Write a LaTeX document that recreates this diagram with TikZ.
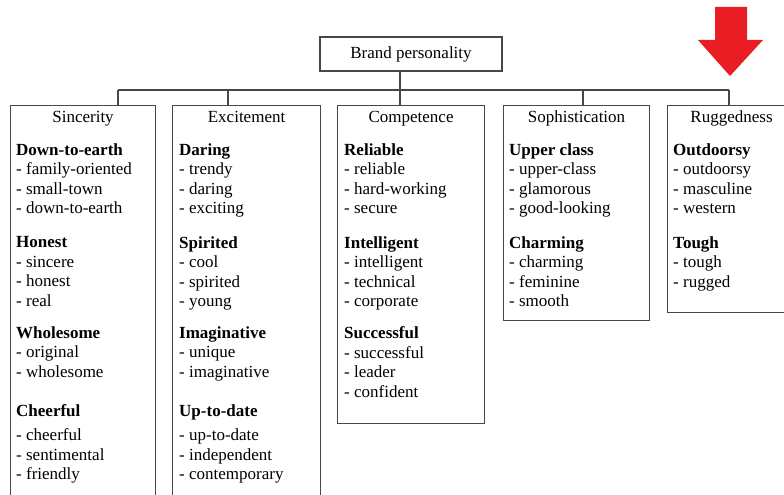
\documentclass[tikz,border=0pt]{standalone}
\usepackage{fontspec}
\setmainfont{Liberation Serif}
\usetikzlibrary{positioning}
\definecolor{arrowred}{RGB}{232,30,36}

\begin{document}
\begin{tikzpicture}[x=1pt,y=-1pt]
	%\draw[help lines] (0,0) grid (784,495);
	\clip (0,0) rectangle (784,495);

	\tikzstyle{bnode} = [rectangle,draw=black!72,line width=1.1pt,anchor=north west,inner sep=0]
	\tikzstyle{hnode} = [anchor=base,inner sep=0,font=\fontsize{17}{19.5}\selectfont]
	\tikzstyle{gnode} = [anchor=north west,align=left,inner sep=0,font=\fontsize{17}{19.5}\selectfont]
	\tikzstyle{bedge} = [draw=black!72,line width=1.1pt]

	% top box
	\node[rectangle,draw=black!72,line width=1.1pt,minimum width=182pt,minimum height=34pt,
		font=\fontsize{17}{19.5}\selectfont] (brand) at (411,54) {Brand personality};

	% dimension boxes
	\node[bnode,minimum width=145pt,minimum height=410pt] (sinc) at (10,105) {};
	\node[bnode,minimum width=148pt,minimum height=410pt] (exci) at (172,105) {};
	\node[bnode,minimum width=147pt,minimum height=318pt] (comp) at (337,105) {};
	\node[bnode,minimum width=146pt,minimum height=215pt] (soph) at (503,105) {};
	\node[bnode,minimum width=128pt,minimum height=207pt] (rugg) at (667,105) {};

	\node[hnode] (sinch) at ([yshift=-17pt]sinc.north) {Sincerity};
	\node[hnode] (excih) at ([yshift=-17pt]exci.north) {Excitement};
	\node[hnode] (comph) at ([yshift=-17pt]comp.north) {Competence};
	\node[hnode] (sophh) at ([yshift=-17pt]soph.north) {Sophistication};
	\node[hnode] (ruggh) at ([yshift=-17pt]rugg.north) {Ruggedness};

	% facets and traits
	\node[gnode] (sinc1) at (16,143.5) {\textbf{Down-to-earth}\\- family-oriented\\- small-town\\- down-to-earth};
	\node[gnode] (sinc2) at (16,236.5) {\textbf{Honest}\\- sincere\\- honest\\- real};
	\node[gnode] (sinc3) at (16,326.5) {\textbf{Wholesome}\\- original\\- wholesome};
	\node[gnode] (sinc4) at (16,404.5) {\textbf{Cheerful}\\[4.5pt]- cheerful\\- sentimental\\- friendly};

	\node[gnode] (exci1) at (179,143.5) {\textbf{Daring}\\- trendy\\- daring\\- exciting};
	\node[gnode] (exci2) at (179,236.5) {\textbf{Spirited}\\- cool\\- spirited\\- young};
	\node[gnode] (exci3) at (179,326.5) {\textbf{Imaginative}\\- unique\\- imaginative};
	\node[gnode] (exci4) at (179,404.5) {\textbf{Up-to-date}\\[4.5pt]- up-to-date\\- independent\\- contemporary};

	\node[gnode] (comp1) at (344,143.5) {\textbf{Reliable}\\- reliable\\- hard-working\\- secure};
	\node[gnode] (comp2) at (344,236.5) {\textbf{Intelligent}\\- intelligent\\- technical\\- corporate};
	\node[gnode] (comp3) at (344,326.5) {\textbf{Successful}\\- successful\\- leader\\- confident};

	\node[gnode] (soph1) at (509,143.5) {\textbf{Upper class}\\- upper-class\\- glamorous\\- good-looking};
	\node[gnode] (soph2) at (509,236.5) {\textbf{Charming}\\- charming\\- feminine\\- smooth};

	\node[gnode] (rugg1) at (673,143.5) {\textbf{Outdoorsy}\\- outdoorsy\\- masculine\\- western};
	\node[gnode] (rugg2) at (673,236.5) {\textbf{Tough}\\- tough\\- rugged};

	% tree lines
	\coordinate (t1) at (118,90);
	\coordinate (t2) at (228,90);
	\coordinate (t3) at (400,90);
	\coordinate (t4) at (583,90);
	\coordinate (t5) at (729,90);

	\draw[bedge] (t1) -- (t5);
	\draw[bedge] (brand.south -| t3) -- (t3);
	\draw[bedge] (t1) -- (t1 |- sinc.north);
	\draw[bedge] (t2) -- (t2 |- exci.north);
	\draw[bedge] (t3) -- (t3 |- comp.north);
	\draw[bedge] (t4) -- (t4 |- soph.north);
	\draw[bedge] (t5) -- (t5 |- rugg.north);

	% red marker
	\fill[arrowred] (715,7) -- (747,7) -- (747,40) -- (763,40) -- (730,76) -- (698,40) -- (715,40) -- cycle;

\end{tikzpicture}
\end{document}
